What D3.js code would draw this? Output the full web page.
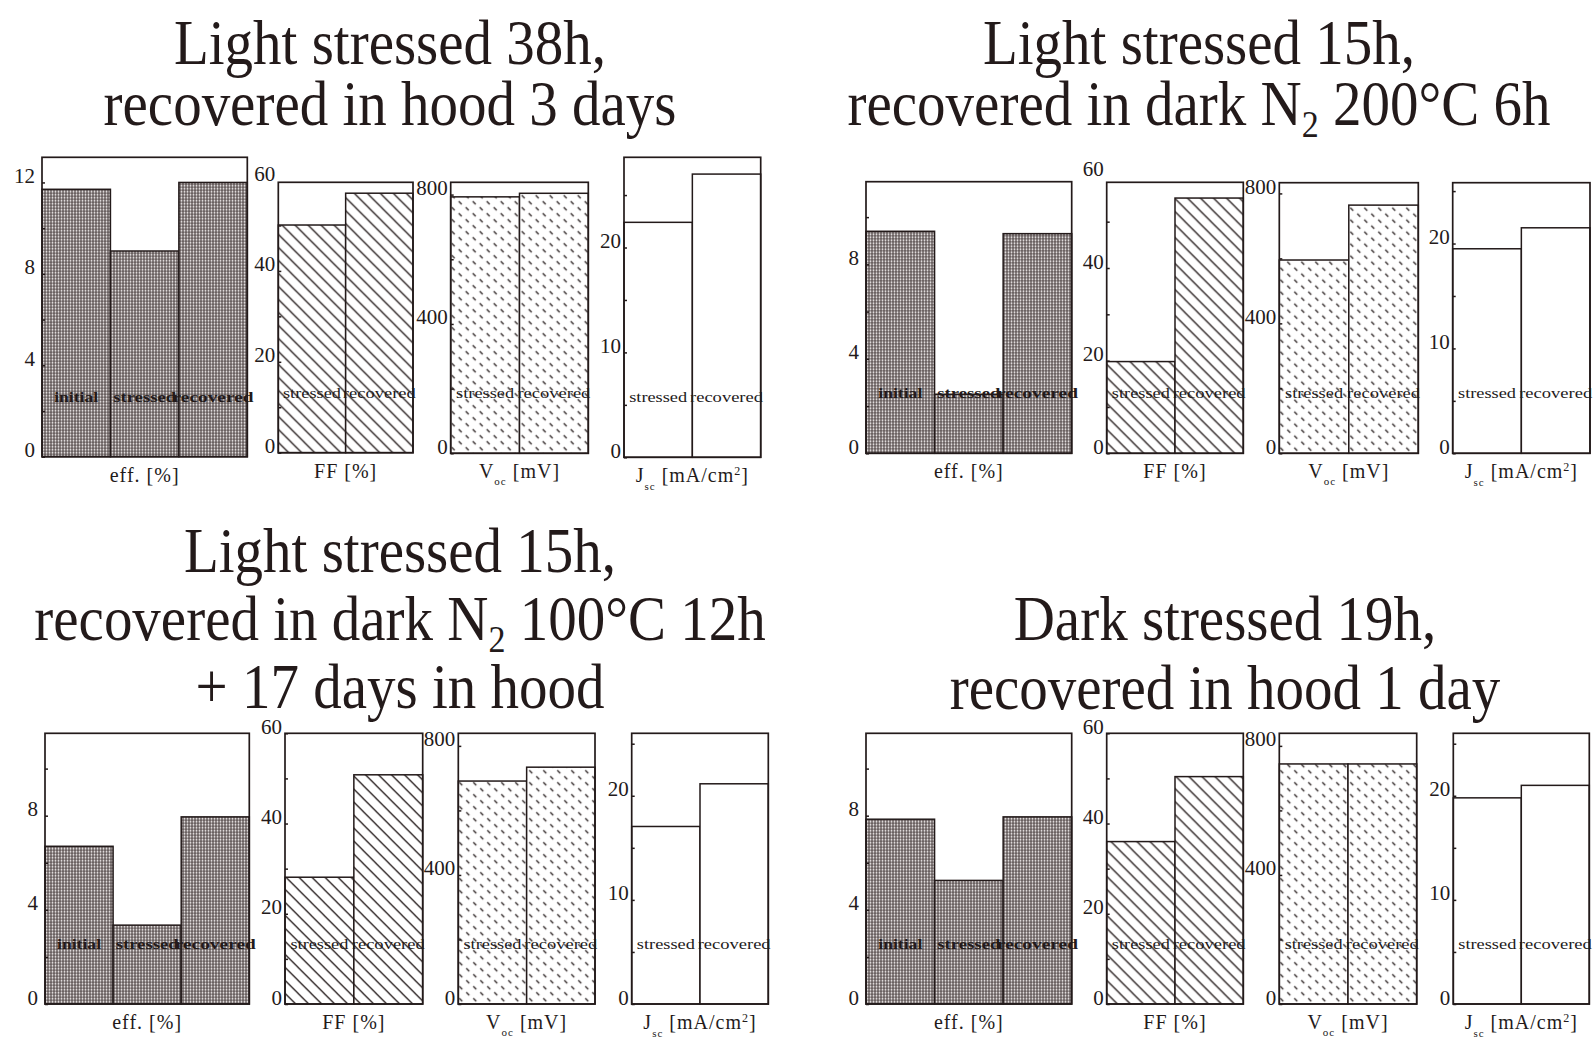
<!DOCTYPE html>
<html>
<head>
<meta charset="utf-8">
<script src="https://cdn.jsdelivr.net/npm/d3@7"></script>
<style>
  body { margin: 0; background: #fff; }
  svg { display: block; }
  text { font-family: "Liberation Serif", "Times New Roman", serif; fill: #231a1a; }
</style>
</head>
<body>
<div id="chart"></div>
<script>
// panel titles ("₂" is drawn as a subscript 2)
const titles = [
  ["Light stressed 38h,", "recovered in hood 3 days"],
  ["Light stressed 15h,", "recovered in dark N₂ 200°C 6h"],
  ["Light stressed 15h,", "recovered in dark N₂ 100°C 12h", "+ 17 days in hood"],
  ["Dark stressed 19h,", "recovered in hood 1 day"]
]

const effCats = ["initial", "stressed", "recovered"]
const pairCats = ["stressed", "recovered"]

// values per panel
const effValues = [[11.7, 9.0, 12.0], [9.4, 2.5, 9.3], [6.7, 3.35, 7.95], [7.85, 5.25, 7.95]]
const ffValues = [[50.1, 57.1], [19.8, 55.1], [28.1, 50.8], [36.0, 50.4]]
const vocValues = [[793, 804], [595, 764], [691, 734], [744, 744]]
const jscValues = [[22.4, 27.0], [19.5, 21.5], [17.05, 21.15], [19.8, 21.0]]

// top of each y axis (frame top) per panel
const effMax = [13.1, 11.5, 11.5, 11.5]
const ffMax = [59.5, 58.5, 60, 60]
const vocMax = [838, 833, 839, 839]
const jscMax = [28.6, 25.8, 26, 26]

// tick labels per panel, and the small unlabelled ticks
const effTicks = [[0, 4, 8, 12], [0, 4, 8], [0, 4, 8], [0, 4, 8]], effMinor = [2, 6, 10]
const ffTicks = [[0, 20, 40, 60], [0, 20, 40, 60], [0, 20, 40, 60], [0, 20, 40, 60]], ffMinor = [10, 30, 50]
const vocTicks = [[0, 400, 800], [0, 400, 800], [0, 400, 800], [0, 400, 800]], vocMinor = [200, 600]
const jscTicks = [[0, 10, 20], [0, 10, 20], [0, 10, 20], [0, 10, 20]], jscMinor = [5, 15, 25]

// layout: frame x / width / top / bottom of the four small charts in each panel
const layout = [
  { x: [42, 278.3, 450.7, 624], w: [205.3, 134.7, 137.6, 136.7], top: [157.3, 182.3, 182.3, 157.3], bottom: [456.7, 452.7, 453.3, 457.3], tx: 390, ty: [63.6, 124.8] },
  { x: [866, 1106.7, 1279.3, 1452.7], w: [205.7, 136.6, 139, 137.3], top: [181.7, 182.3, 182.7, 182.7], bottom: [453.3, 453.3, 453.3, 453.3], tx: 1199, ty: [63.6, 124.8] },
  { x: [45, 285, 458.3, 631.7], w: [204.3, 137.7, 136.7, 136.6], top: [733.3, 733.3, 733.3, 733.3], bottom: [1004, 1004, 1004, 1004], tx: 400, ty: [572, 640, 708] },
  { x: [866, 1106.7, 1279.3, 1453.3], w: [205.7, 136.6, 137.4, 136], top: [733.3, 733.3, 733.3, 733.3], bottom: [1004, 1004, 1004, 1004], tx: 1225, ty: [640, 709] }
]

const ink = "#231a1a"
const width = 1595, height = 1039

const svg = d3.select("#chart").append("svg")
  .attr("width", width)
  .attr("height", height)

// fill patterns
const defs = svg.append("defs")
let dots = defs.append("pattern").attr("id", "dots").attr("patternUnits", "userSpaceOnUse")
  .attr("width", 3).attr("height", 3)
dots.append("rect").attr("width", 3).attr("height", 3).attr("fill", "#3a3030")
dots.append("rect").attr("x", 0.5).attr("y", 0.5).attr("width", 2).attr("height", 2).attr("fill", "#fbf8f8")

let hatch = defs.append("pattern").attr("id", "hatch").attr("patternUnits", "userSpaceOnUse")
  .attr("width", 13).attr("height", 13)
hatch.append("rect").attr("width", 13).attr("height", 13).attr("fill", "#fff")
hatch.append("path").attr("d", "M0,0L13,13M-4,9L4,17M9,-4L17,4")
  .attr("stroke", ink).attr("stroke-width", 1.3)

let dash = defs.append("pattern").attr("id", "dash").attr("patternUnits", "userSpaceOnUse")
  .attr("width", 14).attr("height", 12)
dash.append("rect").attr("width", 14).attr("height", 12).attr("fill", "#fff")
dash.append("path").attr("d", "M1,1L4,4M8,7L11,10")
  .attr("stroke", ink).attr("stroke-width", 1.2)

// the four small charts of one panel
const metrics = [
  { values: effValues, max: effMax, cats: effCats, ticks: effTicks, minor: effMinor, fill: "url(#dots)", bold: true, lens: [44, 63, 81], title: "eff", gap: 7 },
  { values: ffValues, max: ffMax, cats: pairCats, ticks: ffTicks, minor: ffMinor, fill: "url(#hatch)", bold: false, lens: [58, 73], title: "ff", gap: 3 },
  { values: vocValues, max: vocMax, cats: pairCats, ticks: vocTicks, minor: vocMinor, fill: "url(#dash)", bold: false, lens: [58, 73], title: "voc", gap: 3 },
  { values: jscValues, max: jscMax, cats: pairCats, ticks: jscTicks, minor: jscMinor, fill: "#fff", bold: false, lens: [58, 73], title: "jsc", gap: 3 }
]

function axisTitle(sel, kind) {
  if (kind === "eff") sel.text("eff. [%]")
  else if (kind === "ff") sel.text("FF [%]")
  else if (kind === "voc") {
    sel.append("tspan").text("V")
    sel.append("tspan").attr("font-size", 11).attr("dy", 7).text("oc")
    sel.append("tspan").attr("dy", -7).text(" [mV]")
  } else {
    sel.append("tspan").text("J")
    sel.append("tspan").attr("font-size", 11).attr("dy", 8).text("sc")
    sel.append("tspan").attr("dy", -8).text("  [mA/cm")
    sel.append("tspan").attr("font-size", 12).attr("dy", -7).text("2")
    sel.append("tspan").attr("dy", 7).text("]")
  }
}

layout.forEach((L, p) => {
  // title lines
  titles[p].forEach((line, i) => {
    let t = svg.append("text")
      .attr("transform", `translate(${L.tx},${L.ty[i]}) scale(1,1.1)`)
      .attr("text-anchor", "middle")
      .style("font-size", "57px")
    let parts = line.split("₂")
    t.append("tspan").text(parts[0])
    if (parts.length > 1) {
      t.append("tspan").style("font-size", "34px").attr("dy", 11).text("2")
      t.append("tspan").attr("dy", -11).text(parts[1])
    }
  })

  metrics.forEach((m, j) => {
    let w = L.w[j], h = L.bottom[j] - L.top[j]
    let g = svg.append("g").attr("transform", `translate(${L.x[j]},${L.top[j]})`)

    let x = d3.scaleBand().domain(m.cats).range([0, w]).padding(0)
    let y = d3.scaleLinear().domain([0, m.max[p]]).range([h, 0])
    let data = m.cats.map((c, i) => ({ cat: c, v: m.values[p][i], len: m.lens[i] }))

    g.append("rect").attr("width", w).attr("height", h).attr("fill", "#fff")

    g.selectAll(".bar").data(data).enter().append("rect")
      .attr("class", "bar")
      .attr("x", d => x(d.cat))
      .attr("y", d => y(d.v))
      .attr("width", x.bandwidth())
      .attr("height", d => h - y(d.v))
      .attr("fill", m.fill)
      .attr("stroke", ink)
      .attr("stroke-width", 1.5)

    g.selectAll(".lab").data(data).enter().append("text")
      .attr("class", "lab")
      .attr("x", d => x(d.cat) + x.bandwidth() / 2)
      .attr("y", h - 55)
      .attr("text-anchor", "middle")
      .style("font-size", "15px")
      .style("font-weight", m.bold ? "bold" : "normal")
      .attr("textLength", d => d.len)
      .attr("lengthAdjust", "spacingAndGlyphs")
      .text(d => d.cat)

    g.append("rect").attr("width", w).attr("height", h)
      .attr("fill", "none").attr("stroke", ink).attr("stroke-width", 1.7)

    let labelled = m.ticks[p]
    let small = m.minor.filter(v => v <= m.max[p])
    let ax = g.append("g")
      .attr("font-size", 21)
      .attr("font-family", "'Liberation Serif', serif")
      .call(d3.axisLeft(y)
        .tickValues(labelled.concat(small).sort((a, b) => a - b))
        .tickSize(-3)
        .tickFormat(d => labelled.includes(d) ? d : ""))
    ax.select(".domain").remove()
    ax.selectAll("line").attr("stroke", ink).attr("stroke-width", 1.5)
    ax.selectAll(".tick").filter(d => d > m.max[p]).select("line").remove()
    ax.selectAll("text")
      .attr("x", -m.gap).attr("dy", "0")
      .style("font-size", "21px")
      .style("fill", ink)

    g.append("text")
      .attr("x", w / 2)
      .attr("y", h + 25)
      .attr("text-anchor", "middle")
      .style("font-size", "20px")
      .style("letter-spacing", "1px")
      .call(axisTitle, m.title)
  })
})
</script>
</body>
</html>
